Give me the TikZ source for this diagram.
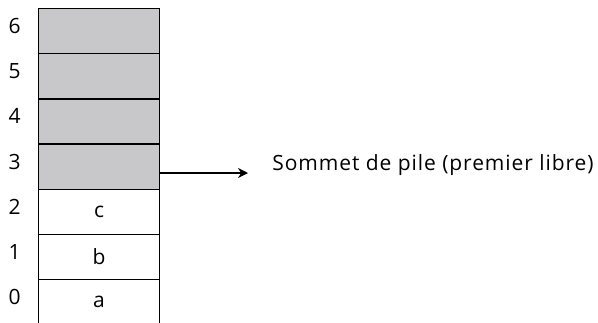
\documentclass[tikz,border=0pt]{standalone}
\usepackage{fontspec}
\setmainfont{Open Sans}[LetterSpace=4.4]
\usetikzlibrary{arrows.meta, positioning}
\definecolor{pilegray}{RGB}{200,200,202}

\begin{document}
\begin{tikzpicture}[x=0.5pt, y=-0.5pt, font=\fontsize{10.5pt}{12pt}\selectfont]

        % Setup the styles for the stack
        \tikzset{cellbox/.style={draw,
                                 line width=0.65pt,
                                 minimum width=60.5pt,
                                 minimum height=22.6pt,
                                 inner sep=0pt,
                                 outer sep=0pt},
                 freecell/.style={cellbox, fill=pilegray},
                 idx/.style={anchor=base east, inner sep=0pt},
                 pointer/.style={line width=0.6pt,
                                 -{Stealth[length=5pt, width=5pt, inset=1.6pt]}}}

        \useasboundingbox (0,0) rectangle (598,322);

        % Draw the cells
        \node[freecell, anchor=north west] at (38.5, 8.5) (cell6) {};
        \node[freecell, below=0pt of cell6] (cell5) {};
        \node[freecell, below=0pt of cell5] (cell4) {};
        \node[freecell, below=0pt of cell4] (cell3) {};
        \node[cellbox, below=0pt of cell3]  (cell2) {c};
        \node[cellbox, below=0pt of cell2]  (cell1) {b};
        \node[cellbox, draw=none, below=0pt of cell1] (cell0) {a};
        \draw[line width=0.65pt] (cell0.south west) -- (cell0.north west)
                                 (cell0.north east) -- (cell0.south east);

        % Number the cells
        \node[idx] at ([xshift=-8.75pt, yshift=-1pt]cell6.west) (idx6) {6};
        \node[idx] at ([xshift=-8.75pt, yshift=-1pt]cell5.west) (idx5) {5};
        \node[idx] at ([xshift=-8.75pt, yshift=-1pt]cell4.west) (idx4) {4};
        \node[idx] at ([xshift=-8.75pt, yshift=-1.2pt]cell3.west) (idx3) {3};
        \node[idx] at ([xshift=-8.75pt, yshift=-1.2pt]cell2.west) (idx2) {2};
        \node[idx] at ([xshift=-8.75pt, yshift=-1.2pt]cell1.west) (idx1) {1};
        \node[idx] at ([xshift=-8.75pt, yshift=-1.2pt]cell0.west) (idx0) {0};

        % Point at the top of the stack
        \node[anchor=base west, inner sep=0pt] at ([xshift=56.25pt, yshift=-2pt]cell3.east)
            (sommet) {Sommet de pile (premier libre)};
        \coordinate (ptr) at ([xshift=-12pt, yshift=-1.15pt]sommet.base west);
        \draw[pointer] (cell3.east |- ptr) -- (ptr);
    \end{tikzpicture}
\end{document}
